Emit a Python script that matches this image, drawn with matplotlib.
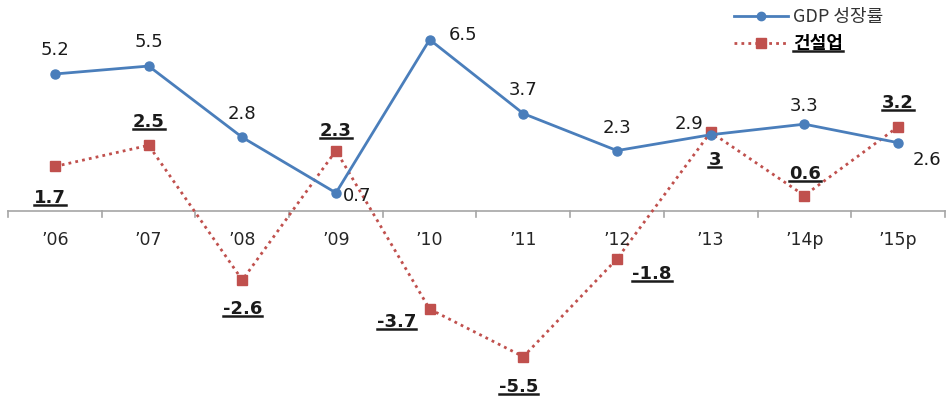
import numpy as np
import matplotlib.pyplot as plt
from matplotlib.lines import Line2D

plt.rcParams['font.family'] = ['DejaVu Sans', 'Noto Sans CJK KR']

years = ["\u201906", "\u201907", "\u201908", "\u201909", "\u201910", "\u201911", "\u201912", "\u201913", "\u201914p", "\u201915p"]
gdp = [5.2, 5.5, 2.8, 0.7, 6.5, 3.7, 2.3, 2.9, 3.3, 2.6]
cons = [1.7, 2.5, -2.6, 2.3, -3.7, -5.5, -1.8, 3, 0.6, 3.2]
gdp_txt = ["5.2", "5.5", "2.8", "0.7", "6.5", "3.7", "2.3", "2.9", "3.3", "2.6"]
cons_txt = ["1.7", "2.5", "-2.6", "2.3", "-3.7", "-5.5", "-1.8", "3", "0.6", "3.2"]

# label offsets in pixels (dx, dy)
gdp_off = [(0, 24), (0, 24), (0, 23), (21, -3), (33, 5), (0, 24), (0, 23), (-22, 11), (0, 18), (29, -17)]
cons_off = [(-5, -32), (0, 23), (0, -29), (0, 20), (-33, -13), (-5, -30), (35, -15), (4, -28), (1, 22), (0, 24)]

blue = "#4A7EBB"
red = "#C0504D"

fig = plt.figure(figsize=(9.5, 4), dpi=100)
ax = fig.add_axes([0, 0, 1, 1])
x = np.arange(len(years))
ax.set_xlim(-0.587, 9.555)
ax.set_ylim(-7.14, 8.0)
ax.axis('off')

# category axis at zero
ax.plot([-0.5, 9.5], [0, 0], color="#A6A6A6", lw=1.2, zorder=1)
for b in np.arange(-0.5, 10, 1):
    ax.plot([b, b], [0, -0.2], color="#A6A6A6", lw=1.2, zorder=1)
for i, yl in enumerate(years):
    ax.text(x[i], -1.1, yl, ha='center', va='center', fontsize=12.5, color="#262626")

ax.plot(x, cons, color=red, lw=2, ls=(0, (1, 1.5)), marker='s', ms=7, mec=red, mfc=red, zorder=2)
ax.plot(x, gdp, color=blue, lw=2, marker='o', ms=6.5, zorder=3)

for i in range(len(x)):
    ax.annotate(gdp_txt[i], (x[i], gdp[i]), xytext=gdp_off[i], textcoords='offset pixels',
                ha='center', va='center', fontsize=13, color="#1a1a1a")

cons_labels = []
for i in range(len(x)):
    t = ax.annotate(cons_txt[i], (x[i], cons[i]), xytext=cons_off[i], textcoords='offset pixels',
                    ha='center', va='center', fontsize=13, fontweight='bold', color="#1a1a1a")
    cons_labels.append(t)

h1 = Line2D([], [], color=blue, lw=2, marker='o', ms=6)
h2 = Line2D([], [], color=red, lw=2, ls=(0, (1, 1.5)), marker='s', ms=7)
leg = ax.legend([h1, h2], ["GDP 성장률", "건설업"], loc='upper left', bbox_to_anchor=(0.755, 1.02),
                frameon=False, handlelength=3.0, handletextpad=0.3, labelspacing=0.45,
                prop={'family': ['Noto Sans CJK KR', 'DejaVu Sans'], 'size': 13})
leg.get_texts()[0].set_color("#333333")
leg.get_texts()[1].set_fontweight('bold')
cons_labels.append(leg.get_texts()[1])

# underline the construction labels
fig.canvas.draw()
r = fig.canvas.get_renderer()
inv = fig.transFigure.inverted()
for t in cons_labels:
    bb = t.get_window_extent(r)
    (x0, y0), (x1, _) = inv.transform([(bb.x0, bb.y0 + 2), (bb.x1, bb.y0)])
    fig.add_artist(Line2D([x0, x1], [y0, y0], color="#1a1a1a", lw=1.8, transform=fig.transFigure))

fig.savefig("out.png", dpi=100)
